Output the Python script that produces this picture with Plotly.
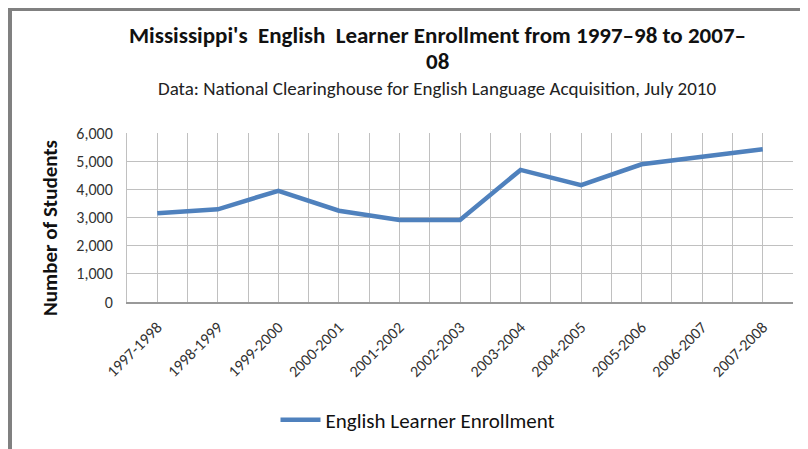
import plotly.graph_objects as go

years = ["1997-1998", "1998-1999", "1999-2000", "2000-2001", "2001-2002", "2002-2003",
         "2003-2004", "2004-2005", "2005-2006", "2006-2007", "2007-2008"]
enrollment = [3150, 3290, 3950, 3240, 2910, 2910, 4690, 4145, 4890, 5140, 5420]
y_ticks = [0, 1000, 2000, 3000, 4000, 5000, 6000]
series_name = "English Learner Enrollment"

W, H = 808, 449
OFF = 8  # page body margin offset
L, T = 127 - OFF, 133 - OFF
R = W - (793 - OFF)
B = H - (302 - OFF)
pw, ph = W - L - R, H - T - B

def px(x):
    return (x - OFF - L) / pw

def py(y):
    return (H - B - (y - OFF)) / ph

FONT = "Carlito, Calibri, 'Liberation Sans Narrow', Lato, Roboto, sans-serif"
idx = list(range(len(years)))

fig = go.Figure()
fig.add_trace(go.Scatter(x=idx, y=enrollment, mode="lines", name=series_name,
                         line=dict(color="#4F81BD", width=4.5)))

fig.update_layout(
    width=W, height=H,
    margin=dict(l=L, r=R, t=T, b=B, autoexpand=False),
    paper_bgcolor="white", plot_bgcolor="white",
    font=dict(family=FONT, color="#222"),
    showlegend=True,
    legend=dict(orientation="h", xref="paper", yref="paper", x=px(418), y=py(420),
                xanchor="center", yanchor="middle", font=dict(size=21, color="#111"),
                itemwidth=40),
    xaxis=dict(range=[-0.5, len(years) - 0.5], tickvals=idx, ticktext=years,
               tickangle=-45, showgrid=True, gridcolor="#C0C0C0", gridwidth=1,
               tickfont=dict(size=16, color="#333"), ticks="", zeroline=False,
               showline=True, linecolor="#999999", linewidth=1.5, automargin=False,
               ticklabelstandoff=8,
               minor=dict(tickvals=[i - 0.5 for i in range(len(years) + 1)],
                          showgrid=True, gridcolor="#C0C0C0", gridwidth=1)),
    yaxis=dict(range=[0, 6000], tickvals=y_ticks, tickformat=",d",
               showgrid=True, gridcolor="#C0C0C0", gridwidth=1.2,
               tickfont=dict(size=16, color="#333"), zeroline=False,
               showline=True, linecolor="#C0C0C0", linewidth=1, ticks="",
               ticklabelstandoff=10, automargin=False),
)

fig.add_annotation(xref="paper", yref="paper", x=px(50), y=py(228), xanchor="center",
                   yanchor="middle", showarrow=False, textangle=-90,
                   text="<b>Number of Students</b>", font=dict(size=21, color="#111"))
fig.add_annotation(xref="paper", yref="paper", x=px(437), y=py(35), xanchor="center",
                   yanchor="middle", showarrow=False,
                   text="<b>Mississippi's  English  Learner Enrollment from 1997–98 to 2007–</b>",
                   font=dict(size=23, color="#111"))
fig.add_annotation(xref="paper", yref="paper", x=px(437), y=py(61), xanchor="center",
                   yanchor="middle", showarrow=False, text="<b>08</b>",
                   font=dict(size=23, color="#111"))
fig.add_annotation(xref="paper", yref="paper", x=px(437), y=py(88), xanchor="center",
                   yanchor="middle", showarrow=False,
                   text="Data: National Clearinghouse for English Language Acquisition, July 2010",
                   font=dict(size=19, color="#222"))

# frame
fig.add_shape(type="line", xref="paper", yref="paper", x0=px(8), x1=px(820), y0=py(9.5), y1=py(9.5),
              line=dict(color="#808080", width=3))
fig.add_shape(type="line", xref="paper", yref="paper", x0=px(10), x1=px(10), y0=py(8), y1=py(460),
              line=dict(color="#808080", width=4))

fig.write_html("out.html")
